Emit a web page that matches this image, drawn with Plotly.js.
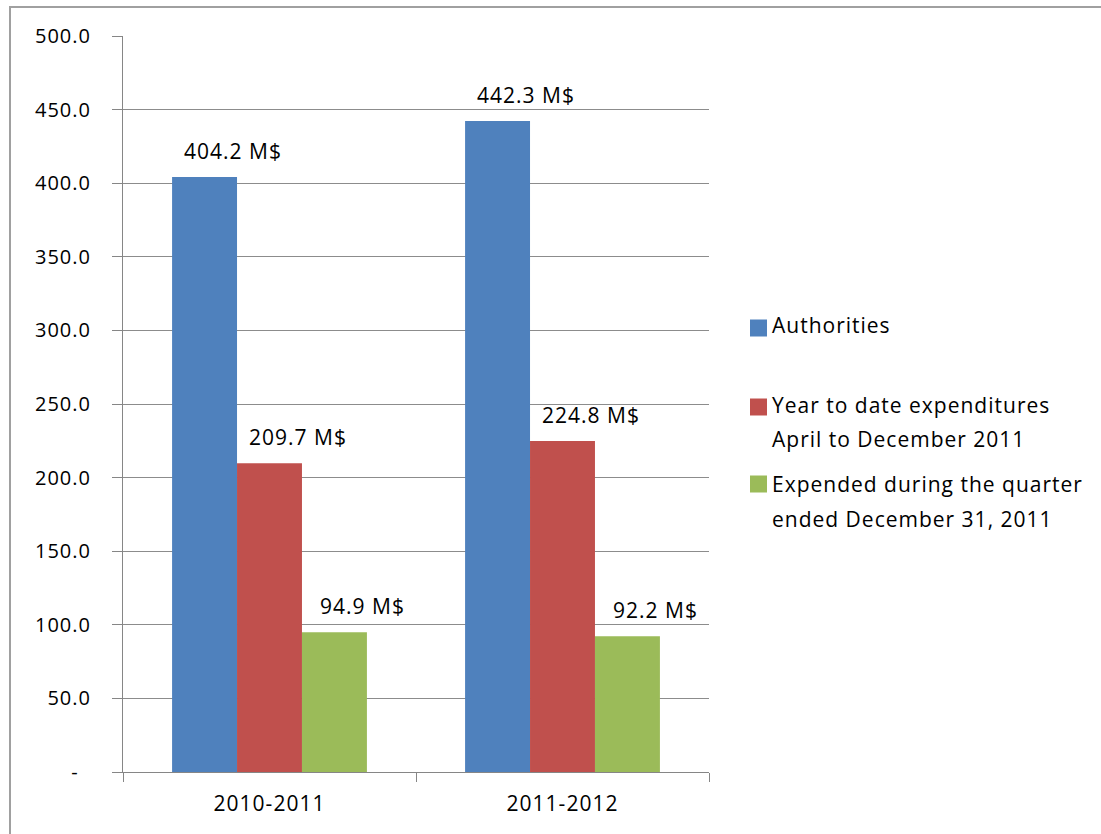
<!DOCTYPE html>
<html>
<head>
<meta charset="utf-8">
<script src="https://cdn.plot.ly/plotly-3.0.1.min.js"></script>
<style>
  body { margin: 0; background: #fff; }
  #chart { position: absolute; left: 0; top: 0; width: 1101px; height: 834px; }
  text { letter-spacing: 1px; }
  #frame { position: absolute; left: 9px; top: 6px; width: 1100px; height: 840px;
           border-left: 2px solid #a0a0a0; border-top: 2px solid #a0a0a0; pointer-events: none; }
</style>
</head>
<body>
<div id="chart"></div>
<div id="frame"></div>
<script>
// ---- data ----
const categories = ["2010-2011", "2011-2012"];
const authorities = [404.2, 442.3];
const yearToDate = [209.7, 224.8];
const quarter = [94.9, 92.2];
const seriesNames = ["Authorities", "Year to date expenditures", "Expended during the quarter"];
const legendLines = [
  ["Authorities"],
  ["Year to date expenditures", "April to December 2011"],
  ["Expended during the quarter", "ended December 31, 2011"]
];
const valueSuffix = " M$";
const yTickVals = [0, 50, 100, 150, 200, 250, 300, 350, 400, 450, 500];
const yTickText = ["-\u00a0\u00a0", "50.0", "100.0", "150.0", "200.0", "250.0", "300.0", "350.0", "400.0", "450.0", "500.0"];

// ---- style ----
const colors = ["#4F81BD", "#C0504D", "#9BBB59"];
const fam = "'Open Sans', Lato, sans-serif";
const tickFont = { family: fam, size: 20, color: "#000" };
const labelFont = { family: fam, size: 21, color: "#000" };
const M = { l: 123, r: 392, t: 36, b: 62 };
const W = 1101, H = 834;
const pw = W - M.l - M.r, ph = H - M.t - M.b;
const px2x = p => (p - M.l) / pw;
const py2y = p => (H - M.b - p) / ph;
const barPx = 65;

const values = [authorities, yearToDate, quarter];
const traces = values.map((v, i) => ({
  type: "bar",
  x: categories,
  y: v,
  name: seriesNames[i],
  marker: { color: colors[i] },
  hoverinfo: "x+y+name"
}));

// value labels (positioned from the data values)
const annotations = [];
values.forEach((v, i) => {
  v.forEach((d, j) => {
    annotations.push({
      x: categories[j], y: d, xref: "x", yref: "y",
      text: d.toFixed(1) + valueSuffix,
      showarrow: false, font: labelFont,
      xanchor: "center", yanchor: "middle",
      xshift: (i - 1) * barPx + 28, yshift: 26
    });
  });
});

// custom legend
const legendSquares = [328, 407, 484];
const legendTextY = [[325], [405, 439], [484, 519]];
const shapes = [];
legendLines.forEach((lines, i) => {
  const cy = legendSquares[i];
  shapes.push({
    type: "rect", xref: "paper", yref: "paper",
    x0: px2x(750), x1: px2x(767), y0: py2y(cy + 8.5), y1: py2y(cy - 8.5),
    fillcolor: colors[i], line: { width: 0 }
  });
  lines.forEach((t, k) => {
    annotations.push({
      xref: "paper", yref: "paper", x: px2x(770), y: py2y(legendTextY[i][k]),
      text: t, showarrow: false, font: labelFont,
      xanchor: "left", yanchor: "middle", align: "left"
    });
  });
});

const layout = {
  width: W, height: H,
  margin: M,
  paper_bgcolor: "#fff", plot_bgcolor: "#fff",
  font: labelFont,
  barmode: "group",
  bargap: 0.335,
  bargroupgap: 0,
  showlegend: false,
  annotations: annotations,
  shapes: shapes,
  xaxis: {
    type: "category",
    showline: true, linecolor: "#868686", linewidth: 1,
    ticks: "outside", tickson: "boundaries", ticklen: 9, tickcolor: "#868686",
    tickfont: labelFont, ticklabelstandoff: 13,
    showgrid: false
  },
  yaxis: {
    range: [0, 500],
    tickvals: yTickVals, ticktext: yTickText,
    showline: true, linecolor: "#868686", linewidth: 1,
    ticks: "outside", ticklen: 10, tickcolor: "#868686",
    ticklabelstandoff: 17,
    showgrid: true, gridcolor: "#8c8c8c", gridwidth: 1,
    zeroline: false,
    tickfont: tickFont
  }
};

Plotly.newPlot("chart", traces, layout, { displayModeBar: false, staticPlot: true });
</script>
</body>
</html>
